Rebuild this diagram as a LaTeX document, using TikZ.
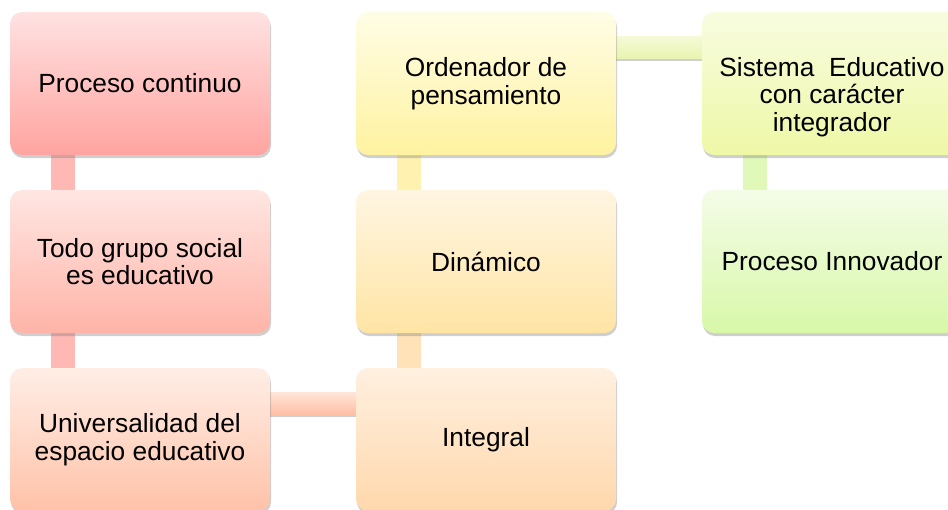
\documentclass[tikz,border=0pt]{standalone}
\usepackage{fontspec}
\setmainfont{Liberation Sans}
\usetikzlibrary{positioning, shadows, backgrounds}

\definecolor{procTop}{HTML}{FFE2E2}
\definecolor{procBot}{HTML}{FFA4A0}
\definecolor{todoTop}{HTML}{FFE6E2}
\definecolor{todoBot}{HTML}{FFB4A8}
\definecolor{univTop}{HTML}{FFEEE6}
\definecolor{univBot}{HTML}{FFC2A8}
\definecolor{integTop}{HTML}{FFF0E0}
\definecolor{integBot}{HTML}{FFD8AC}
\definecolor{dinTop}{HTML}{FFF6E2}
\definecolor{dinBot}{HTML}{FFE4A4}
\definecolor{ordTop}{HTML}{FFFDE6}
\definecolor{ordBot}{HTML}{FFF2A0}
\definecolor{sistTop}{HTML}{F8FCE0}
\definecolor{sistBot}{HTML}{EEF8A6}
\definecolor{innovTop}{HTML}{F4FCE8}
\definecolor{innovBot}{HTML}{D8F8A8}
\definecolor{pinkBar}{HTML}{FFB8B4}
\definecolor{peachBarTop}{HTML}{FFE6DA}
\definecolor{peachBarBot}{HTML}{FFC0A4}
\definecolor{orangeBar}{HTML}{FFE2B8}
\definecolor{yellowBar}{HTML}{FFF2B0}
\definecolor{limeBarTop}{HTML}{F6FAD8}
\definecolor{limeBarBot}{HTML}{E8F4B0}
\definecolor{greenBar}{HTML}{E0F8B8}

\begin{document}
\begin{tikzpicture}[x=1pt, y=-1pt, node distance=35pt and 86pt,
  box/.style={rounded corners=12pt, minimum width=260pt, minimum height=143pt,
    outer sep=0pt, align=center, font=\fontsize{26.3}{27.5}\selectfont,
    drop shadow={shadow xshift=1pt, shadow yshift=-3pt, opacity=0.38}},
  bar/.style={line width=24pt},
  hbar/.style={drop shadow={shadow xshift=0pt, shadow yshift=-3pt, opacity=0.38}}]
\path[use as bounding box] (0,0) rectangle (948,509);

% left column
\node[box, top color=procTop, bottom color=procBot] (proc) at (140,83.5) {Proceso continuo};
\node[box, top color=todoTop, bottom color=todoBot, below=of proc] (todo) {Todo grupo social\\es educativo};
\node[box, top color=univTop, bottom color=univBot, below=of todo] (univ) {Universalidad del\\espacio educativo};

% middle column
\node[box, top color=integTop, bottom color=integBot, right=of univ] (integ) {Integral};
\node[box, top color=dinTop, bottom color=dinBot, above=of integ] (din) {Din\'amico};
\node[box, top color=ordTop, bottom color=ordBot, above=of din] (orden) {Ordenador de\\pensamiento};

% right column (text sits a bit low in its box)
\node[box, top color=sistTop, bottom color=sistBot, right=of orden] (sist) {\rule{0pt}{46pt}Sistema~~Educativo\\con car\'acter\\integrador};
\node[box, top color=innovTop, bottom color=innovBot, below=of sist] (innov) {Proceso Innovador};

\begin{scope}[on background layer]
\draw[bar, pinkBar] ([xshift=53pt]proc.south west) -- ([xshift=53pt]todo.north west);
\draw[bar, pinkBar] ([xshift=53pt]todo.south west) -- ([xshift=53pt]univ.north west);
\path[hbar, top color=peachBarTop, bottom color=peachBarBot] ([yshift=-24pt]univ.north east) rectangle ([yshift=-46pt]integ.north west);
\draw[bar, orangeBar] ([xshift=53pt]integ.north west) -- ([xshift=53pt]din.south west);
\draw[bar, yellowBar] ([xshift=53pt]din.north west) -- ([xshift=53pt]orden.south west);
\path[hbar, top color=limeBarTop, bottom color=limeBarBot] ([yshift=-24pt]orden.north east) rectangle ([yshift=-46pt]sist.north west);
\draw[bar, greenBar] ([xshift=53pt]sist.south west) -- ([xshift=53pt]innov.north west);
\end{scope}
\end{tikzpicture}
\end{document}
